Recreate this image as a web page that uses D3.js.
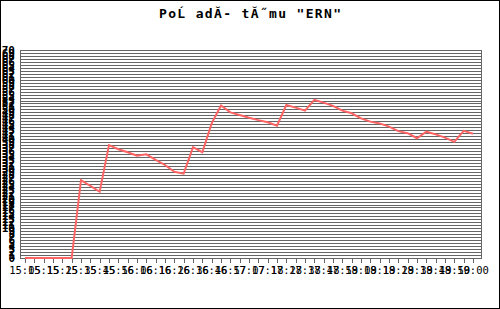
<!DOCTYPE html>
<html><head><meta charset="utf-8">
<script src="https://cdn.jsdelivr.net/npm/d3@7"></script>
<style>html,body{margin:0;padding:0;background:#fff;overflow:hidden}</style>
</head><body>
<script>
const title = 'PoĹ adĂ- tĂ˝mu "ERN"';
const xTickLabels = ["15:05","15:15","15:25","15:35","15:45","15:56","16:06","16:16","16:26","16:36","16:46","16:57","17:07","17:18","17:28","17:38","17:48","17:59","18:09","18:19","18:29","18:39","18:49","18:50","19:00"];
const values = [0,0,0,0,0,0,26.2,24.3,22.3,38.0,36.6,35.6,34.4,34.9,33.0,31.3,29.0,28.4,37.3,35.6,45.3,51.3,49.0,48.1,47.2,46.4,45.7,44.5,51.5,50.6,49.6,53.2,52.3,51.2,49.6,48.7,47.0,45.9,45.3,44.2,42.7,42.0,40.3,42.5,41.6,40.5,39.1,42.8,41.8];
const yTicks = d3.range(0, 71);

const W = 500, H = 309;
const svg = d3.select("body").append("svg").attr("width", W).attr("height", H);
svg.append("rect").attr("x",0.5).attr("y",0.5).attr("width",W-1).attr("height",H-1)
  .attr("fill","#fff").attr("stroke","#000");

const plot = {l:20, r:481, t:50, b:258};
const x = d3.scaleLinear().domain([0, values.length-1]).range([25, 473]);
const y = d3.scaleLinear().domain([0, 70]).range([plot.b, plot.t]);

svg.append("text").attr("x", 250).attr("y", 18).attr("text-anchor","middle")
  .attr("font-family","DejaVu Sans Mono").attr("font-size", 13).attr("font-weight","bold")
  .attr("textLength", 182).attr("lengthAdjust","spacing")
  .text(title);

// gridlines
svg.append("g").selectAll("line").data(yTicks).join("line")
  .attr("x1", plot.l).attr("x2", plot.r)
  .attr("y1", d => Math.round(y(d))+0.5).attr("y2", d => Math.round(y(d))+0.5)
  .attr("stroke", "#666").attr("stroke-width", 1);
svg.append("rect").attr("x", plot.l+0.5).attr("y", plot.t+0.5)
  .attr("width", plot.r-plot.l).attr("height", plot.b-plot.t)
  .attr("fill","none").attr("stroke","#666");

// y labels
svg.append("g").selectAll("text").data(yTicks).join("text")
  .attr("x", 15).attr("y", d => y(d)+4).attr("text-anchor","end")
  .attr("font-family","DejaVu Sans Mono").attr("font-size", 11).attr("font-weight","bold")
  .attr("fill","#000").text(d => d);

// x ticks
svg.append("g").selectAll("line").data(d3.range(values.length)).join("line")
  .attr("x1", i => Math.round(x(i))+0.5).attr("x2", i => Math.round(x(i))+0.5)
  .attr("y1", plot.b+1).attr("y2", plot.b+5).attr("stroke","#666");

// x labels
svg.append("g").selectAll("text").data(xTickLabels).join("text")
  .attr("x", (d,k) => x(2*k)).attr("y", 274).attr("text-anchor","middle")
  .attr("font-family","DejaVu Sans Mono").attr("font-size", 10.5)
  .attr("fill","#000").text(d => d);

// line
svg.append("path").datum(values)
  .attr("d", d3.line().x((d,i) => x(i)).y(d => y(d)))
  .attr("fill","none").attr("stroke","#ff6464").attr("stroke-width",2);
</script>
</body></html>
